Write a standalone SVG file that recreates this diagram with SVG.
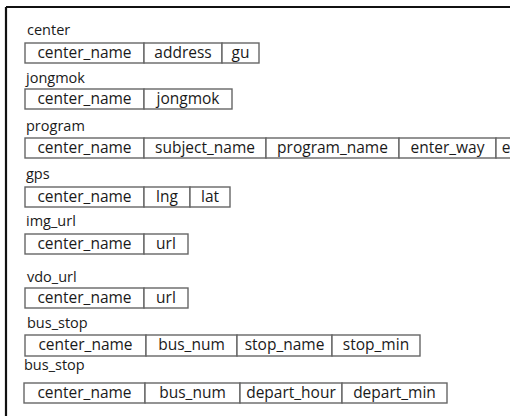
<svg xmlns="http://www.w3.org/2000/svg" width="510" height="416" viewBox="0 0 510 416">
<style>
.lbl{font-family:"Open Sans","Noto Sans",sans-serif;font-size:14.5px;fill:#1a1a1a}
.cell{fill:#fff;stroke:#666;stroke-width:1.4}
.ct{font-family:"Open Sans","Noto Sans",sans-serif;font-size:15.5px;fill:#1a1a1a;text-anchor:middle}
</style>
<rect x="0" y="0" width="510" height="416" fill="#fff"/>
<path d="M6 7H510M6 7V416" stroke="#111" stroke-width="2.2" fill="none"/>
<g id="center">
<text class="lbl" x="27" y="35">center</text>
<rect class="cell" x="25" y="43" width="119" height="20"/><text class="ct" x="84.5" y="58">center_name</text>
<rect class="cell" x="144" y="43" width="78" height="20"/><text class="ct" x="183" y="58">address</text>
<rect class="cell" x="222" y="43" width="37" height="20"/><text class="ct" x="240.5" y="58">gu</text>
</g>
<g id="jongmok">
<text class="lbl" x="26" y="83">jongmok</text>
<rect class="cell" x="25" y="89" width="119" height="20"/><text class="ct" x="84.5" y="104">center_name</text>
<rect class="cell" x="144" y="89" width="88" height="20"/><text class="ct" x="188" y="104">jongmok</text>
</g>
<g id="program">
<text class="lbl" x="26" y="131">program</text>
<rect class="cell" x="25" y="138" width="119" height="20"/><text class="ct" x="84.5" y="153">center_name</text>
<rect class="cell" x="144" y="138" width="122" height="20"/><text class="ct" x="205" y="153">subject_name</text>
<rect class="cell" x="266" y="138" width="133" height="20"/><text class="ct" x="332.5" y="153">program_name</text>
<rect class="cell" x="399" y="138" width="97" height="20"/><text class="ct" x="447.5" y="153">enter_way</text>
<rect class="cell" x="496" y="138" width="80" height="20"/><text class="ct" x="506" y="153">e</text>
</g>
<g id="gps">
<text class="lbl" x="26" y="179">gps</text>
<rect class="cell" x="25" y="187" width="119" height="20"/><text class="ct" x="84.5" y="202">center_name</text>
<rect class="cell" x="144" y="187" width="46" height="20"/><text class="ct" x="167" y="202">lng</text>
<rect class="cell" x="190" y="187" width="40" height="20"/><text class="ct" x="210" y="202">lat</text>
</g>
<g id="img_url">
<text class="lbl" x="26" y="226">img_url</text>
<rect class="cell" x="25" y="234" width="119" height="20"/><text class="ct" x="84.5" y="249">center_name</text>
<rect class="cell" x="144" y="234" width="44" height="20"/><text class="ct" x="166" y="249">url</text>
</g>
<g id="vdo_url">
<text class="lbl" x="27" y="282">vdo_url</text>
<rect class="cell" x="25" y="288" width="119" height="20"/><text class="ct" x="84.5" y="303">center_name</text>
<rect class="cell" x="144" y="288" width="44" height="20"/><text class="ct" x="166" y="303">url</text>
</g>
<g id="bus_stop_1">
<text class="lbl" x="27" y="328">bus_stop</text>
<rect class="cell" x="25" y="335" width="121" height="21"/><text class="ct" x="85.5" y="350">center_name</text>
<rect class="cell" x="146" y="335" width="91" height="21"/><text class="ct" x="191.5" y="350">bus_num</text>
<rect class="cell" x="237" y="335" width="95" height="21"/><text class="ct" x="284.5" y="350">stop_name</text>
<rect class="cell" x="332" y="335" width="88" height="21"/><text class="ct" x="376" y="350">stop_min</text>
</g>
<g id="bus_stop_2">
<text class="lbl" x="24" y="370">bus_stop</text>
<rect class="cell" x="24" y="383" width="121" height="20"/><text class="ct" x="84.5" y="398">center_name</text>
<rect class="cell" x="145" y="383" width="95" height="20"/><text class="ct" x="192.5" y="398">bus_num</text>
<rect class="cell" x="240" y="383" width="102" height="20"/><text class="ct" x="291" y="398">depart_hour</text>
<rect class="cell" x="342" y="383" width="105" height="20"/><text class="ct" x="394.5" y="398">depart_min</text>
</g>
<g id="connectors"></g>
</svg>
